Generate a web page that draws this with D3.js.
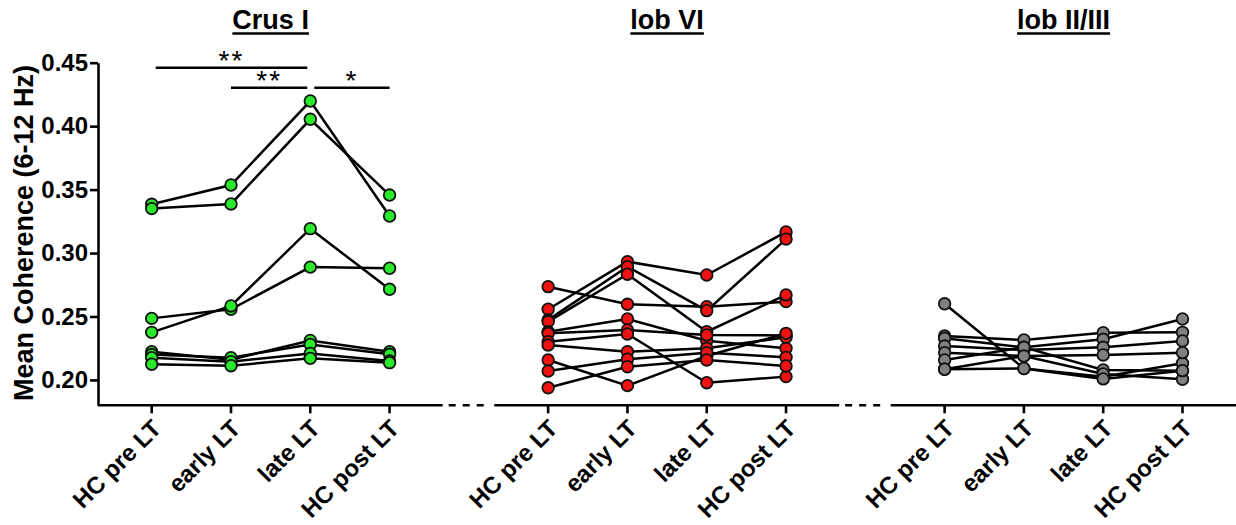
<!DOCTYPE html>
<html>
<head>
<meta charset="utf-8">
<title>Mean Coherence</title>
<script src="https://cdn.jsdelivr.net/npm/d3@7"></script>
<style>
  body { margin: 0; background: #fff; }
  text { font-family: "Liberation Sans", Arial, sans-serif; }
</style>
</head>
<body>
<div id="chart"></div>
<script>
// values, one row per animal: pre, early, late, post
var groups = ["Crus I", "lob VI", "lob II/III"];
var conditions = ["HC pre LT", "early LT", "late LT", "HC post LT"];

var crusI = [
  [0.3384, 0.3536, 0.4198, 0.3292],
  [0.3350, 0.3387, 0.4054, 0.3457],
  [0.2485, 0.2557, 0.2889, 0.2880],
  [0.2375, 0.2583, 0.3192, 0.2714],
  [0.2222, 0.2160, 0.2311, 0.2222],
  [0.2200, 0.2175, 0.2280, 0.2202],
  [0.2175, 0.2144, 0.2209, 0.2150],
  [0.2124, 0.2112, 0.2170, 0.2136]
];
var lobVI = [
  [0.2735, 0.2596, 0.2577, 0.2617],
  [0.2557, 0.2932, 0.2827, 0.3166],
  [0.2473, 0.2892, 0.2546, 0.3110],
  [0.2460, 0.2833, 0.2380, 0.2670],
  [0.2380, 0.2480, 0.2309, 0.2249],
  [0.2367, 0.2394, 0.2354, 0.2350],
  [0.2301, 0.2362, 0.1978, 0.2026],
  [0.2275, 0.2223, 0.2249, 0.2336],
  [0.2157, 0.1955, 0.2189, 0.2367],
  [0.2070, 0.2163, 0.2215, 0.2178],
  [0.1938, 0.2104, 0.2157, 0.2110]
];
var lobII_III = [
  [0.2600, 0.2090, 0.2026, 0.2131],
  [0.2346, 0.2315, 0.2372, 0.2375],
  [0.2328, 0.2257, 0.2320, 0.2480],
  [0.2267, 0.2236, 0.2257, 0.2307],
  [0.2215, 0.2188, 0.2197, 0.2215],
  [0.2157, 0.2257, 0.2078, 0.2073],
  [0.2084, 0.2188, 0.2047, 0.2005],
  [0.2084, 0.2090, 0.2008, 0.2073]
];
var groupData = [crusI, lobVI, lobII_III];
var groupFill = ["#2ae82a", "#ee1212", "#808080"];

var yTicks = [0.20, 0.25, 0.30, 0.35, 0.40, 0.45];

// significance brackets (Crus I only), condition indices
var sigPairs = [[0, 2], [1, 2], [2, 3]];
var sigLabels = ["**", "**", "*"];

var width = 1236, height = 525;
var svg = d3.select("#chart").append("svg")
    .attr("width", width)
    .attr("height", height);

// slot index: 4 conditions per group, one empty slot between groups
var x = d3.scaleLinear().domain([0, 13]).range([151.7, 1182.5]);
var y = d3.scaleLinear().domain([0.18, 0.45]).range([405.3, 62.7]);
var slot = function(g, c) { return g * 5 + c; };

var axisLeftX = 98;

// y axis
var yAxis = d3.axisLeft(y).tickValues(yTicks).tickFormat(d3.format(".2f"))
    .tickSize(8).tickSizeOuter(0);
var gy = svg.append("g").attr("transform", "translate(" + axisLeftX + ",0)").call(yAxis);
gy.select(".domain").attr("stroke", "#000").attr("stroke-width", 2.6);
gy.selectAll(".tick line").attr("stroke", "#000").attr("stroke-width", 2.6);
gy.selectAll(".tick text")
    .attr("x", -10)
    .style("font-size", "24px").style("font-weight", "bold").attr("fill", "#000");

svg.append("text")
    .attr("transform", "translate(33," + 233 + ") rotate(-90)")
    .attr("text-anchor", "middle")
    .style("font-size", "27px").style("font-weight", "bold")
    .text("Mean Coherence (6-12 Hz)");

// x axis baseline with breaks between groups
var baseY = y(0.18);
var segs = [[x.invert(axisLeftX), 3.67], [4.32, 8.67], [9.32, 13.7]];
segs.forEach(function(s) {
  svg.append("line")
      .attr("x1", x(s[0])).attr("x2", x(s[1]))
      .attr("y1", baseY).attr("y2", baseY)
      .attr("stroke", "#000").attr("stroke-width", 2.6);
});
[3.67, 8.67].forEach(function(b) {
  svg.append("line")
      .attr("x1", x(b) + 6).attr("x2", x(b) + 41)
      .attr("y1", baseY).attr("y2", baseY)
      .attr("stroke", "#000").attr("stroke-width", 2.6)
      .attr("stroke-dasharray", "7,7");
});

// x ticks and labels
groups.forEach(function(gName, g) {
  conditions.forEach(function(cName, c) {
    var px = x(slot(g, c));
    svg.append("line")
        .attr("x1", px).attr("x2", px)
        .attr("y1", baseY).attr("y2", baseY + 8)
        .attr("stroke", "#000").attr("stroke-width", 2.6);
    svg.append("text")
        .attr("transform", "translate(" + (px + 11) + "," + 430 + ") rotate(-45)")
        .attr("text-anchor", "end")
        .style("font-size", "24px").style("font-weight", "bold")
        .text(cName);
  });

  // title with underline
  var cx = (x(slot(g, 0)) + x(slot(g, 3))) / 2;
  var t = svg.append("text")
      .attr("x", cx).attr("y", 28.5)
      .attr("text-anchor", "middle")
      .style("font-size", "27px").style("font-weight", "bold")
      .text(gName);
  var tw = t.node().getComputedTextLength();
  svg.append("line")
      .attr("x1", cx - tw / 2).attr("x2", cx + tw / 2)
      .attr("y1", 33.5).attr("y2", 33.5)
      .attr("stroke", "#000").attr("stroke-width", 2.4);
});

// lines then points
var line = d3.line()
    .x(function(d) { return x(d.s); })
    .y(function(d) { return y(d.v); });

groupData.forEach(function(rows, g) {
  var pts = rows.map(function(r) {
    return r.map(function(v, c) { return { s: slot(g, c), v: v }; });
  });
  svg.append("g").selectAll("path").data(pts).enter().append("path")
      .attr("d", line)
      .attr("fill", "none").attr("stroke", "#000").attr("stroke-width", 2.5);
});
groupData.forEach(function(rows, g) {
  var flat = [];
  rows.forEach(function(r) {
    r.forEach(function(v, c) { flat.push({ s: slot(g, c), v: v }); });
  });
  svg.append("g").selectAll("circle").data(flat).enter().append("circle")
      .attr("cx", function(d) { return x(d.s); })
      .attr("cy", function(d) { return y(d.v); })
      .attr("r", 5.8)
      .attr("fill", groupFill[g])
      .attr("stroke", "#111").attr("stroke-width", 1.8);
});

// significance brackets
sigPairs.forEach(function(p, i) {
  var row = (p[1] - p[0] > 1) ? 0 : 1;
  var by = row === 0 ? 67.7 : 87.7;
  var x1 = x(p[0]) + (row === 0 ? 4 : 0);
  var x2 = x(p[1]) - 3;
  if (i === 2) { x1 = x(p[0]) + 4; x2 = x(p[1]); }
  svg.append("line")
      .attr("x1", x1).attr("x2", x2)
      .attr("y1", by).attr("y2", by)
      .attr("stroke", "#000").attr("stroke-width", 2.6);
  svg.append("text")
      .attr("x", (x1 + x2) / 2).attr("y", by + 2)
      .attr("text-anchor", "middle")
      .style("font-size", "28px")
      .style("letter-spacing", "2px")
      .text(sigLabels[i]);
});
</script>
</body>
</html>
